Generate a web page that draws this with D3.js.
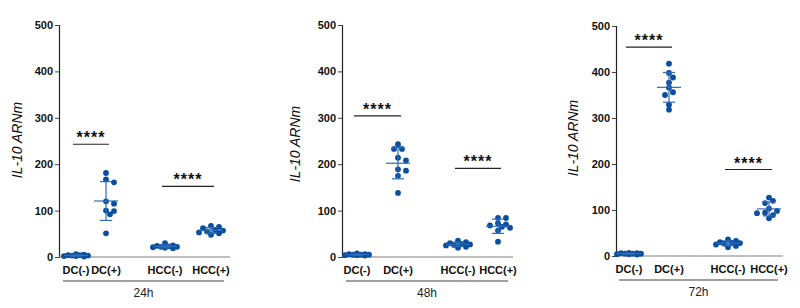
<!DOCTYPE html>
<html>
<head>
<meta charset="utf-8">
<script src="https://cdn.jsdelivr.net/npm/d3@7"></script>
<style>
	body { margin: 0; background: #fff; }
	text { font-family: 'Liberation Sans', Arial, sans-serif; }
</style>
</head>
<body>
<div class="svg-container"></div>
<script>
// Data
var timepoints = ['24h', '48h', '72h'];
var groups = ['DC(-)', 'DC(+)', 'HCC(-)', 'HCC(+)'];
var yTicks = [0, 100, 200, 300, 400, 500];
var yTitle = 'IL-10 ARNm';

var values24h = [
	[3, 5, 2, 6, 4, 1, 3, 2, 4],
	[181, 167, 161, 120, 115, 100, 99, 92, 51],
	[22, 21, 23, 25, 30, 24, 22, 20, 19],
	[67, 65, 62, 58, 57, 55, 53, 51, 48]
];
var values48h = [
	[4, 5, 6, 8, 5, 4, 3, 6, 5],
	[243, 233, 233, 214, 208, 189, 186, 175, 138],
	[27, 26, 28, 32, 35, 30, 25, 22, 20],
	[84, 84, 73, 70, 68, 65, 63, 57, 33]
];
var values72h = [
	[4, 5, 6, 5, 4, 6, 5, 3, 7],
	[418, 398, 388, 377, 366, 356, 350, 329, 318],
	[29, 28, 30, 33, 36, 27, 25, 22, 19],
	[127, 120, 115, 103, 98, 94, 93, 89, 82]
];
var sig24h = [['DC(-)', 'DC(+)', 243], ['HCC(-)', 'HCC(+)', 152]];
var sig48h = [['DC(-)', 'DC(+)', 304], ['HCC(-)', 'HCC(+)', 191]];
var sig72h = [['DC(-)', 'DC(+)', 454], ['HCC(-)', 'HCC(+)', 188]];
var sigLabel = '****';

var width = 800;
var height = 308;
var dotColour = '#0b4e9e';
var barColour = '#2d6cb8';

var svg = d3.select('.svg-container')
	.append('svg')
	.attr('width', width)
	.attr('height', height);

// Layout for the three panels
var panels = [
	{ values: values24h, sig: sig24h, left: 59, right: 230, top: 25, bottom: 257,
		offsets: [17, 47, 106, 152], titleX: -42, titleY: 140, bracket: [63, 224] },
	{ values: values48h, sig: sig48h, left: 342, right: 513, top: 25, bottom: 257,
		offsets: [15, 56, 116, 156], titleX: -47, titleY: 144, bracket: [346, 508] },
	{ values: values72h, sig: sig72h, left: 616, right: 783, top: 26, bottom: 256,
		offsets: [13, 53, 112, 153], titleX: -43, titleY: 138, bracket: [619, 778] }
];

// Spread points sideways, within a limited width, like a scatter dot plot
function swarm(ys, step, minDist, maxOff) {
	var order = d3.range(ys.length).sort(function(a, b) { return ys[a] - ys[b]; });
	var candidates = [0];
	for (var s = step; s <= maxOff; s += step) candidates.push(s, -s);
	var placed = [];
	var dx = new Array(ys.length);
	order.forEach(function(i) {
		var best = 0, bestDist = -1;
		for (var k = 0; k < candidates.length; k++) {
			var off = candidates[k];
			var near = d3.min(placed, function(p) {
				return Math.hypot(p[0] - off, p[1] - ys[i]);
			});
			if (near === undefined || near >= minDist) { best = off; bestDist = Infinity; break; }
			if (near > bestDist) { bestDist = near; best = off; }
		}
		dx[i] = best;
		placed.push([best, ys[i]]);
	});
	return dx;
}

panels.forEach(function(p, pi) {
	var g = svg.append('g');

	var yScale = d3.scaleLinear()
		.domain([0, 500])
		.range([p.bottom, p.top]);

	var xScale = d3.scaleOrdinal()
		.domain(groups)
		.range(p.offsets.map(function(o) { return p.left + o; }));

	// Y axis
	var yAxis = g.append('g')
		.attr('transform', 'translate(' + p.left + ',0)')
		.call(d3.axisLeft(yScale).tickValues(yTicks).tickSize(4).tickPadding(2));
	yAxis.select('.domain').attr('stroke', '#222').attr('stroke-width', 1.2);
	yAxis.selectAll('.tick line').attr('stroke', '#444');
	yAxis.selectAll('.tick text')
		.attr('fill', '#111')
		.style('font-size', '11px')
		.style('font-weight', 'bold');

	// X axis line
	g.append('line')
		.attr('x1', p.left).attr('x2', p.right)
		.attr('y1', p.bottom).attr('y2', p.bottom)
		.attr('stroke', '#808080')
		.attr('stroke-width', 1.2);

	// Category labels
	g.selectAll('text.cat')
		.data(groups)
		.enter()
		.append('text')
		.attr('class', 'cat')
		.attr('x', function(d) { return xScale(d); })
		.attr('y', p.bottom + 17)
		.attr('text-anchor', 'middle')
		.style('font-size', '11px')
		.style('font-weight', 'bold')
		.attr('fill', '#111')
		.text(function(d) { return d; });

	// Group bracket and time label
	g.append('line')
		.attr('x1', p.bracket[0]).attr('x2', p.bracket[1])
		.attr('y1', p.bottom + 24).attr('y2', p.bottom + 24)
		.attr('stroke', '#808080')
		.attr('stroke-width', 1.5);
	g.append('text')
		.attr('x', (p.bracket[0] + p.bracket[1]) / 2)
		.attr('y', p.bottom + 40)
		.attr('text-anchor', 'middle')
		.style('font-size', '12px')
		.attr('fill', '#222')
		.text(timepoints[pi]);

	// Y title
	g.append('text')
		.attr('transform', 'translate(' + (p.left + p.titleX) + ',' + p.titleY + ') rotate(-90)')
		.attr('text-anchor', 'middle')
		.attr('dy', '0.35em')
		.style('font-size', '14px')
		.style('font-style', 'italic')
		.attr('fill', '#111')
		.text(yTitle);

	// Dots, mean and SD per group
	groups.forEach(function(name, gi) {
		var vals = p.values[gi];
		var ys = vals.map(function(v) { return yScale(v); });
		var dx = swarm(ys, 4, 5, 12);
		var cx = xScale(name);

		g.selectAll('circle.g' + gi)
			.data(vals)
			.enter()
			.append('circle')
			.attr('class', 'g' + gi)
			.attr('cx', function(d, i) { return cx + dx[i]; })
			.attr('cy', function(d) { return yScale(d); })
			.attr('r', 2.9)
			.attr('fill', dotColour);

		var mean = d3.mean(vals);
		var sd = d3.deviation(vals);
		var bars = g.append('g')
			.attr('stroke', barColour)
			.attr('stroke-width', 1.2);
		bars.append('line')
			.attr('x1', cx).attr('x2', cx)
			.attr('y1', yScale(mean - sd)).attr('y2', yScale(mean + sd));
		bars.append('line')
			.attr('x1', cx - 12).attr('x2', cx + 12)
			.attr('y1', yScale(mean)).attr('y2', yScale(mean));
		[mean - sd, mean + sd].forEach(function(v) {
			bars.append('line')
				.attr('x1', cx - 6).attr('x2', cx + 6)
				.attr('y1', yScale(v)).attr('y2', yScale(v));
		});
	});

	// Significance brackets
	var sig = g.selectAll('g.sig')
		.data(p.sig)
		.enter()
		.append('g')
		.attr('class', 'sig');
	sig.append('line')
		.attr('x1', function(d) { return xScale(d[0]) - 3; })
		.attr('x2', function(d) { return xScale(d[1]) + 3; })
		.attr('y1', function(d) { return yScale(d[2]); })
		.attr('y2', function(d) { return yScale(d[2]); })
		.attr('stroke', '#222')
		.attr('stroke-width', 1.2);
	sig.append('text')
		.attr('x', function(d) { return (xScale(d[0]) + xScale(d[1])) / 2; })
		.attr('y', function(d) { return yScale(d[2]) - 1; })
		.attr('text-anchor', 'middle')
		.style('font-size', '16px')
		.style('font-weight', 'bold')
		.style('letter-spacing', '1px')
		.attr('fill', '#111')
		.text(sigLabel);
});
</script>
</body>
</html>
